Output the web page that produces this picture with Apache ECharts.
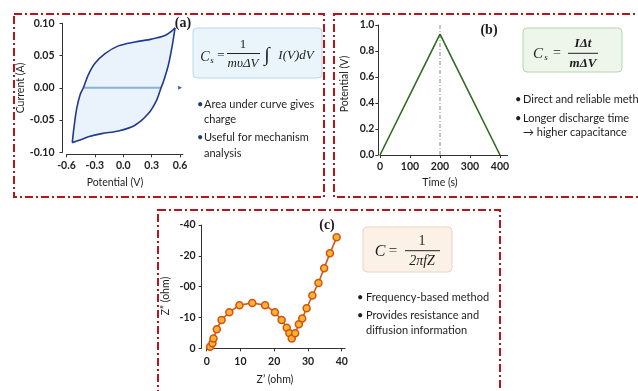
<!DOCTYPE html>
<html><head><meta charset="utf-8">
<script src="https://cdn.jsdelivr.net/npm/echarts@6/dist/echarts.min.js"></script>
<style>html,body{margin:0;padding:0;background:#fff}#c{width:638px;height:391px}</style>
</head><body><div id="c"></div>
<script>
// ---- (a) cyclic voltammetry ----
const cvUpperV = [-0.539,-0.518,-0.492,-0.457,-0.422,-0.370,-0.299,-0.193,-0.052,0.124,0.301,0.441,0.512,0.547];
const cvUpperI = [-0.085,-0.058,-0.032,-0.011,0.000,0.020,0.038,0.053,0.065,0.071,0.0755,0.081,0.088,0.093];
const cvLowerV = [0.547,0.518,0.476,0.423,0.399,0.353,0.265,0.124,-0.052,-0.228,-0.370,-0.457,-0.539];
const cvLowerI = [0.093,0.066,0.035,0.009,0.000,-0.019,-0.040,-0.058,-0.067,-0.071,-0.076,-0.081,-0.085];
const cvZeroV = [-0.422, 0.399];
const cvArrowV = [0.6];
const cvXLabels = ['-0.6','-0.3','0.0','0.3','0.6'];
const cvYLabels = ['-0.10','-0.05','0.00','0.05','0.10'];
// ---- (b) galvanostatic charge/discharge ----
const gcdTime = [0, 200, 400];
const gcdPotential = [0, 0.93, 0];
const gcdMarkerTime = [200];
const gcdXLabels = ['0','100','200','300','400'];
const gcdYLabels = ['0.0','0.2','0.4','0.6','0.8','1.0'];
// ---- (c) EIS Nyquist ----
const eisZre = [1.0,1.7,2.0,3.0,4.4,6.7,9.7,13.5,17.3,20.2,22.2,23.7,24.5,25.2,26.2,27.3,28.3,29.6,31.3,33.1,34.8,36.5,38.5];
const eisZim = [0.5,1.6,3.2,6.2,9.2,11.7,14.0,14.7,14.0,11.7,9.2,6.7,4.9,3.2,4.9,7.8,9.7,13.0,17.1,21.2,26.0,30.8,36.0];
const eisXLabels = ['0','10','20','30','40'];
const eisYLabels = ['0','-10','-00','-20','-40'];

const zip = (a, b) => a.map((v, i) => [v, b[i]]);
const lab = (arr, min, step) => v => { const k = Math.round((v - min) / step); return Math.abs(min + k * step - v) < step * 1e-3 && arr[k] !== undefined ? arr[k] : ''; };

const SANS = 'Lato, "Open Sans", sans-serif';
const SERIF = '"Liberation Serif", "DejaVu Serif", serif';
const tickFont = {fontFamily: SANS, fontSize: 10.5, fontWeight: 'bold', color: '#222'};
function axisCommon(extra) {
  return Object.assign({
    type: 'value',
    axisLine: {show: true, onZero: false, lineStyle: {color: '#333', width: 1}},
    axisTick: {show: true, length: 3, lineStyle: {color: '#333'}},
    splitLine: {show: false}
  }, extra);
}

const chart = echarts.init(document.getElementById('c'), null, {renderer: 'canvas'});

function T(x, y, text, o) {
  o = o || {};
  return {type: 'text', x: x, y: y, rotation: o.rot || 0, z: 10,
    style: {text: text, fill: o.color || '#1d1d1d', font: (o.italic ? 'italic ' : '') + (o.bold ? 'bold ' : '') + (o.size || 11) + 'px ' + (o.family || SANS),
      textAlign: o.align || 'center', textVerticalAlign: 'middle'}};
}
function L(x1, y1, x2, y2, c, w) { return {type: 'line', z: 10, shape: {x1, y1, x2, y2}, style: {stroke: c || '#222', lineWidth: w || 1}}; }
function frame(x, y, w, h) { return {type: 'rect', z: 5, shape: {x, y, width: w, height: h}, style: {fill: 'none', stroke: '#b5141c', lineWidth: 2, lineDash: [8, 3, 2, 3]}}; }
function box(x, y, w, h, fill, stroke) { return {type: 'rect', z: 6, shape: {x, y, width: w, height: h, r: 4}, style: {fill, stroke, lineWidth: 1}}; }

const cvLoopV = cvUpperV.concat(cvLowerV.slice(1));
const cvLoopI = cvUpperI.concat(cvLowerI.slice(1));

const graphic = [
  frame(14, 14, 310, 183),
  frame(334, 14, 330, 183),
  frame(158, 210, 342, 200),
  // boxes
  box(193, 28, 129, 50, '#eaf4fb', '#b9d7ea'),
  box(523, 28, 99, 44, '#eef6ec', '#b7d4b0'),
  box(363, 227, 89, 45, '#fbf1e7', '#ead4bf'),
  // formula a
  T(205, 57, 'C', {italic: true, size: 14, family: SERIF}),
  T(212, 61, 's', {italic: true, size: 9, family: SERIF}),
  T(221, 56, '=', {size: 13, family: SERIF}),
  T(243, 45, '1', {size: 13, family: SERIF}),
  L(227, 53.5, 260, 53.5, '#222', 1),
  T(243, 64, 'm\u03C5\u0394V', {italic: true, size: 13, family: SERIF}),
  T(267, 56, '\u222B', {italic: true, size: 20, family: SERIF}),
  T(296, 56, 'I(V)dV', {italic: true, size: 13, family: SERIF}),
  // formula b
  T(538, 54, 'C', {italic: true, size: 15, family: SERIF}),
  T(546, 58, 's', {italic: true, size: 9, family: SERIF}),
  T(557, 53, '=', {size: 14, family: SERIF}),
  T(583, 43.5, 'I\u0394t', {italic: true, bold: true, size: 13, family: SERIF}),
  L(568, 53.3, 598, 53.3, '#222', 1),
  T(583, 64, 'm\u0394V', {italic: true, bold: true, size: 13, family: SERIF}),
  // formula c
  T(380, 252, 'C', {italic: true, size: 16, family: SERIF}),
  T(393, 251, '=', {size: 15, family: SERIF}),
  T(422, 241, '1', {size: 14, family: SERIF}),
  L(405, 250.7, 440, 250.7, '#222', 1),
  T(422, 261, '2\u03C0fZ', {italic: true, size: 14, family: SERIF}),
  // panel labels
  T(183, 23, '(a)', {bold: true, size: 14, family: SERIF}),
  T(489, 30, '(b)', {bold: true, size: 14, family: SERIF}),
  T(327, 225, '(c)', {bold: true, size: 14, family: SERIF}),
  // axis titles
  T(21, 88, 'Current (A)', {rot: Math.PI / 2, size: 10.5}),
  T(115, 183, 'Potential (V)', {size: 10.5}),
  T(345, 84, 'Potential (V)', {rot: Math.PI / 2, size: 10.5}),
  T(440, 183, 'Time (s)', {size: 10.5}),
  T(166, 296, 'Z\u201D (ohm)', {rot: Math.PI / 2, size: 10.5}),
  T(275, 380, 'Z\u2019 (ohm)', {size: 10.5}),
  // bullets a
  T(197, 104, '\u2022', {color: '#233a6b', size: 11, align: 'left'}),
  T(204, 104, 'Area under curve gives', {size: 11, align: 'left'}),
  T(204, 119, 'charge', {size: 11, align: 'left'}),
  T(197, 137, '\u2022', {color: '#233a6b', size: 11, align: 'left'}),
  T(204, 137, 'Useful for mechanism', {size: 11, align: 'left'}),
  T(204, 153, 'analysis', {size: 11, align: 'left'}),
  // bullets b
  T(515, 99, '\u2022', {size: 11, align: 'left'}),
  T(523, 99, 'Direct and reliable method', {size: 11, align: 'left'}),
  T(515, 118, '\u2022', {size: 11, align: 'left'}),
  T(523, 118, 'Longer discharge time', {size: 11, align: 'left'}),
  T(523, 132.5, '\u2192 higher capacitance', {size: 11, align: 'left'}),
  // bullets c
  T(357, 297, '\u2022', {size: 11, align: 'left'}),
  T(366, 297, 'Frequency-based method', {size: 11, align: 'left'}),
  T(357, 315, '\u2022', {size: 11, align: 'left'}),
  T(366, 315, 'Provides resistance and', {size: 11, align: 'left'}),
  T(366, 330, 'diffusion information', {size: 11, align: 'left'})
];

const option = {
  backgroundColor: '#fff',
  animation: false,
  grid: [
    {left: 66.5, top: 23.3, width: 116.4, height: 129, outerBoundsMode: 'none'},
    {left: 380, top: 25, width: 127.5, height: 130, outerBoundsMode: 'none'},
    {left: 206.7, top: 225, width: 138.4, height: 123.3, outerBoundsMode: 'none'}
  ],
  xAxis: [
    axisCommon({gridIndex: 0, min: -0.6, max: 0.63, interval: 0.3, offset: 2,
      axisLabel: Object.assign({margin: 6, showMaxLabel: false, formatter: lab(cvXLabels, -0.6, 0.3)}, tickFont)}),
    axisCommon({gridIndex: 1, min: 0, max: 425, interval: 100,
      axisLabel: Object.assign({margin: 6, showMaxLabel: false, formatter: lab(gcdXLabels, 0, 100)}, tickFont)}),
    axisCommon({gridIndex: 2, min: 0, max: 41, interval: 10,
      axisLabel: Object.assign({margin: 8, showMaxLabel: false, formatter: lab(eisXLabels, 0, 10)}, tickFont)})
  ],
  yAxis: [
    axisCommon({gridIndex: 0, min: -0.1, max: 0.1, interval: 0.05, offset: 4,
      axisLabel: Object.assign({margin: 8, formatter: lab(cvYLabels, -0.1, 0.05)}, tickFont)}),
    axisCommon({gridIndex: 1, min: 0, max: 1.0, interval: 0.2, offset: 1.7,
      axisLabel: Object.assign({margin: 4, formatter: lab(gcdYLabels, 0, 0.2)}, tickFont)}),
    axisCommon({gridIndex: 2, min: 0, max: 40, interval: 10, offset: 5,
      axisLabel: Object.assign({margin: 6, formatter: lab(eisYLabels, 0, 10)}, tickFont)})
  ],
  series: [
    {type: 'custom', xAxisIndex: 0, yAxisIndex: 0, data: [[0, 0]], silent: true, z: 1,
      renderItem: function (params, api) {
        const pts = cvLoopV.map((v, i) => api.coord([v, cvLoopI[i]]));
        return {type: 'polygon', shape: {points: pts}, style: {fill: '#eaf3fb', stroke: 'none'}};
      }},
    {type: 'line', xAxisIndex: 0, yAxisIndex: 0, data: zip(cvZeroV, [0, 0]), symbol: 'none',
      lineStyle: {color: '#86b3d6', width: 2}, z: 2},
    {type: 'scatter', xAxisIndex: 0, yAxisIndex: 0, data: zip(cvArrowV, [0]), symbol: 'triangle', symbolRotate: -90,
      symbolSize: 4, itemStyle: {color: '#1f3a8f'}, z: 3},
    {type: 'line', xAxisIndex: 0, yAxisIndex: 0, data: zip(cvUpperV, cvUpperI), symbol: 'none', smooth: 0.3,
      lineStyle: {color: '#1f3a8f', width: 1.6}, z: 4},
    {type: 'line', xAxisIndex: 0, yAxisIndex: 0, data: zip(cvLowerV, cvLowerI), symbol: 'none', smooth: 0.3,
      lineStyle: {color: '#1f3a8f', width: 1.6}, z: 4},
    {type: 'line', xAxisIndex: 1, yAxisIndex: 1, data: [[gcdMarkerTime[0], 0], [gcdMarkerTime[0], 1.0]], symbol: 'none',
      lineStyle: {color: '#888', width: 1, type: [4, 2, 1, 2]}, z: 2},
    {type: 'line', xAxisIndex: 1, yAxisIndex: 1, data: zip(gcdTime, gcdPotential), symbol: 'none',
      lineStyle: {color: '#2f6a22', width: 1.6}, z: 3},
    {type: 'line', xAxisIndex: 2, yAxisIndex: 2, data: zip(eisZre, eisZim), symbol: 'circle', symbolSize: 7,
      lineStyle: {color: '#d9561b', width: 1.6},
      itemStyle: {color: '#f8b332', borderColor: '#d4520f', borderWidth: 1.5}, z: 3}
  ],
  graphic: graphic
};
chart.setOption(option);
</script></body></html>
